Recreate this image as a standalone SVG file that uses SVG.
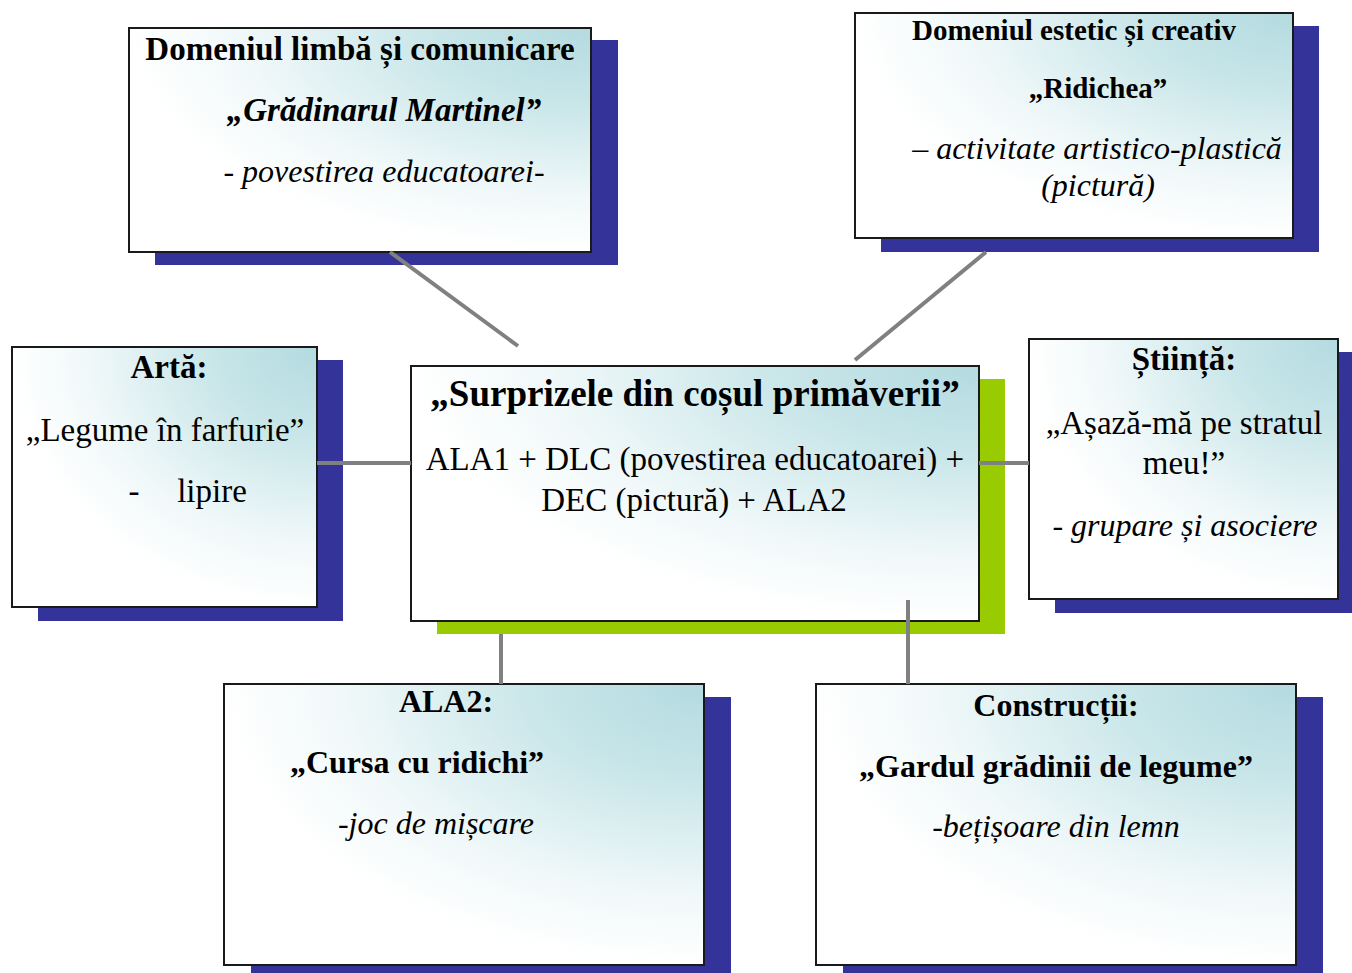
<svg xmlns="http://www.w3.org/2000/svg" width="1352" height="973" viewBox="0 0 1352 973">
<defs>
<radialGradient id="fill" cx="1" cy="0" r="1" fx="1" fy="0">
<stop offset="0" stop-color="#b3dbe0"/>
<stop offset="0.35" stop-color="#c9e6e9"/>
<stop offset="0.75" stop-color="#f0f8f9"/>
<stop offset="1" stop-color="#ffffff"/>
</radialGradient>
</defs>
<style>
.shadow{fill:#333399}
.green{fill:#99cc00}
.box{fill:url(#fill);stroke:#1a1a1a;stroke-width:2}
text{font-family:"Liberation Serif","Times New Roman",serif;fill:#000;text-anchor:middle}
.b{font-weight:bold}
.i{font-style:italic}
.conn{stroke:#808080;stroke-width:4;fill:none}
</style>
<rect width="1352" height="973" fill="#fff"/>

<g id="node-dlc">
<rect class="shadow" x="155" y="40" width="463" height="225"/>
<rect class="box" x="129" y="28" width="462" height="224"/>
<text class="b" x="360" y="60" font-size="33">Domeniul limbă și comunicare</text>
<text class="b i" x="384" y="121" font-size="33">„Grădinarul Martinel”</text>
<text class="i" x="384" y="182" font-size="32">- povestirea educatoarei-</text>
</g>

<g id="node-dec">
<rect class="shadow" x="881" y="26" width="438" height="226"/>
<rect class="box" x="855" y="13" width="438" height="225"/>
<text class="b" x="1074" y="40" font-size="29">Domeniul estetic și creativ</text>
<text class="b" x="1098" y="98" font-size="29">„Ridichea”</text>
<text class="i" x="1097" y="159" font-size="32">– activitate artistico-plastică</text>
<text class="i" x="1098" y="196" font-size="32">(pictură)</text>
</g>

<g id="node-center">
<rect class="green" x="437" y="379" width="568" height="255"/>
<rect class="box" x="411" y="366" width="568" height="255"/>
<text class="b" x="695" y="406" font-size="37">„Surprizele din coșul primăverii”</text>
<text x="695" y="470" font-size="33">ALA1 + DLC (povestirea educatoarei) +</text>
<text x="694" y="511" font-size="33">DEC (pictură) + ALA2</text>
</g>

<g id="node-arta">
<rect class="shadow" x="38" y="360" width="305" height="261"/>
<rect class="box" x="12" y="347" width="305" height="260"/>
<text class="b" x="169" y="378" font-size="33">Artă:</text>
<text x="165" y="441" font-size="33">„Legume în farfurie”</text>
<text x="134" y="502" font-size="33">-</text>
<text x="212" y="502" font-size="33">lipire</text>
</g>

<g id="node-stiinta">
<rect class="shadow" x="1055" y="352" width="297" height="261"/>
<rect class="box" x="1029" y="339" width="309" height="260"/>
<text class="b" x="1184" y="370" font-size="33">Știință:</text>
<text x="1184" y="434" font-size="33">„Așază-mă pe stratul</text>
<text x="1184" y="474" font-size="33">meu!”</text>
<text class="i" x="1185" y="536" font-size="32">- grupare și asociere</text>
</g>

<g id="node-ala2">
<rect class="shadow" x="251" y="697" width="480" height="276"/>
<rect class="box" x="224" y="684" width="480" height="281"/>
<text class="b" x="446" y="712" font-size="32">ALA2:</text>
<text class="b" x="417" y="773" font-size="32">„Cursa cu ridichi”</text>
<text class="i" x="436" y="834" font-size="32">-joc de mișcare</text>
</g>

<g id="node-constructii">
<rect class="shadow" x="843" y="697" width="480" height="276"/>
<rect class="box" x="816" y="684" width="480" height="281"/>
<text class="b" x="1056" y="716" font-size="32">Construcții:</text>
<text class="b" x="1056" y="777" font-size="32">„Gardul grădinii de legume”</text>
<text class="i" x="1056" y="837" font-size="32">-bețișoare din lemn</text>
</g>

<g id="connectors">
<line class="conn" x1="390" y1="252" x2="518" y2="346"/>
<line class="conn" x1="986" y1="252" x2="855" y2="360"/>
<line class="conn" x1="317" y1="463" x2="411" y2="463"/>
<line class="conn" x1="979" y1="463" x2="1029" y2="463"/>
<line class="conn" x1="501" y1="634" x2="501" y2="684"/>
<line class="conn" x1="908" y1="600" x2="908" y2="684"/>
</g>
</svg>
